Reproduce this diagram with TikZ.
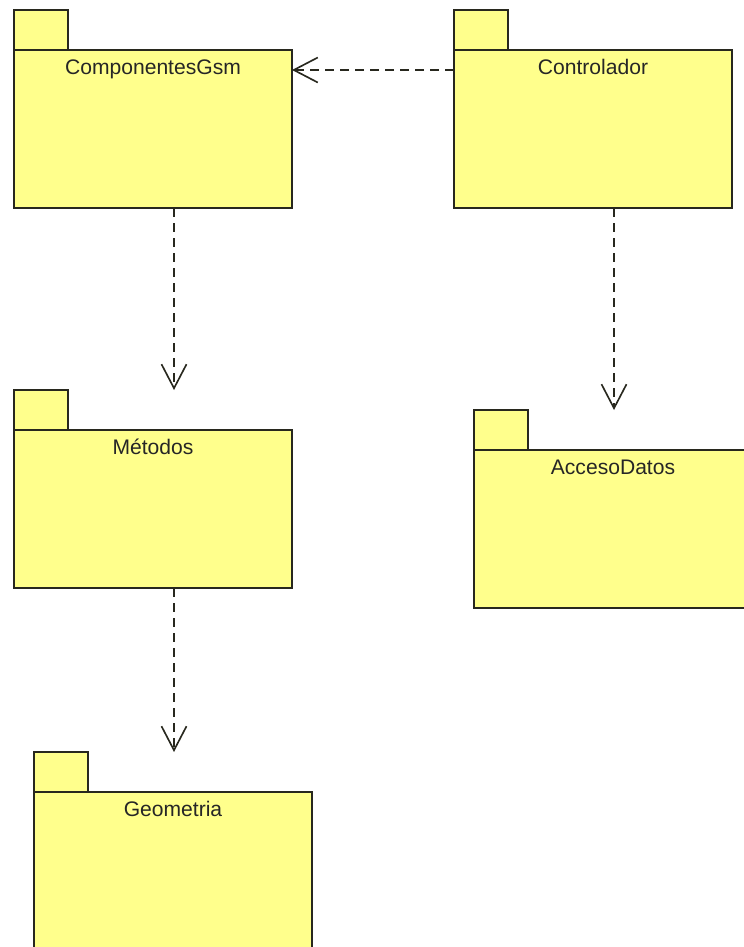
\documentclass[tikz,border=0pt]{standalone}
\usepackage{fontspec}
\setmainfont{Liberation Sans}
\usepackage{tikz}
\usetikzlibrary{arrows.meta,positioning}

\definecolor{pkgyellow}{RGB}{255,255,140}
\definecolor{pkgline}{RGB}{40,40,30}

\tikzset{
	pkg/.style={draw=pkgline, fill=pkgyellow, line width=1.1pt, inner sep=0pt, outer sep=0pt,
		minimum width=8.34cm, minimum height=4.74cm, anchor=north west},
	pkgtab/.style={draw=pkgline, fill=pkgyellow, line width=1.1pt, inner sep=0pt, outer sep=0pt,
		minimum width=1.62cm, minimum height=1.2cm, anchor=south west},
	pkgname/.style={anchor=base, inner sep=0pt, text=black!85, font=\fontsize{18}{20}\selectfont},
	dep/.style={draw=pkgline, line width=0.9pt, dash pattern=on 0.27cm off 0.18cm,
		-{Straight Barb[length=0.72cm, width=0.75cm, line width=1.4pt]}}
}

\begin{document}
\begin{tikzpicture}[x=0.03cm, y=-0.03cm]
	\useasboundingbox (0,0) rectangle (743,947);
	% packages
	\node[pkg] (cgsm) at (14,50) {};
	\node[pkgtab] (cgsm-tab) at (cgsm.north west) {};
	\node[pkgname] (cgsm-t) at ([yshift=-0.72cm]cgsm.north) {ComponentesGsm};

	\node[pkg] (ctrl) at (454,50) {};
	\node[pkgtab] (ctrl-tab) at (ctrl.north west) {};
	\node[pkgname] (ctrl-t) at ([yshift=-0.72cm]ctrl.north) {Controlador};

	\node[pkg] (metodos) at (14,430) {};
	\node[pkgtab] (metodos-tab) at (metodos.north west) {};
	\node[pkgname] (metodos-t) at ([yshift=-0.72cm]metodos.north) {Métodos};

	\node[pkg] (datos) at (474,450) {};
	\node[pkgtab] (datos-tab) at (datos.north west) {};
	\node[pkgname] (datos-t) at ([yshift=-0.72cm]datos.north) {AccesoDatos};

	\node[pkg] (geom) at (34,792) {};
	\node[pkgtab] (geom-tab) at (geom.north west) {};
	\node[pkgname] (geom-t) at ([yshift=-0.72cm]geom.north) {Geometria};

	% dependencies
	\draw[dep] ([yshift=-0.6cm]ctrl.north west) -- ([yshift=-0.6cm]cgsm.north east);
	\draw[dep] ([xshift=0.63cm]cgsm.south) -- ([xshift=0.63cm]cgsm.south |- metodos-tab.north);
	\draw[dep] ([xshift=0.63cm]ctrl.south) -- ([xshift=0.63cm]ctrl.south |- datos-tab.north);
	\draw[dep] ([xshift=0.63cm]metodos.south) -- ([xshift=0.63cm]metodos.south |- geom-tab.north);
\end{tikzpicture}
\end{document}
